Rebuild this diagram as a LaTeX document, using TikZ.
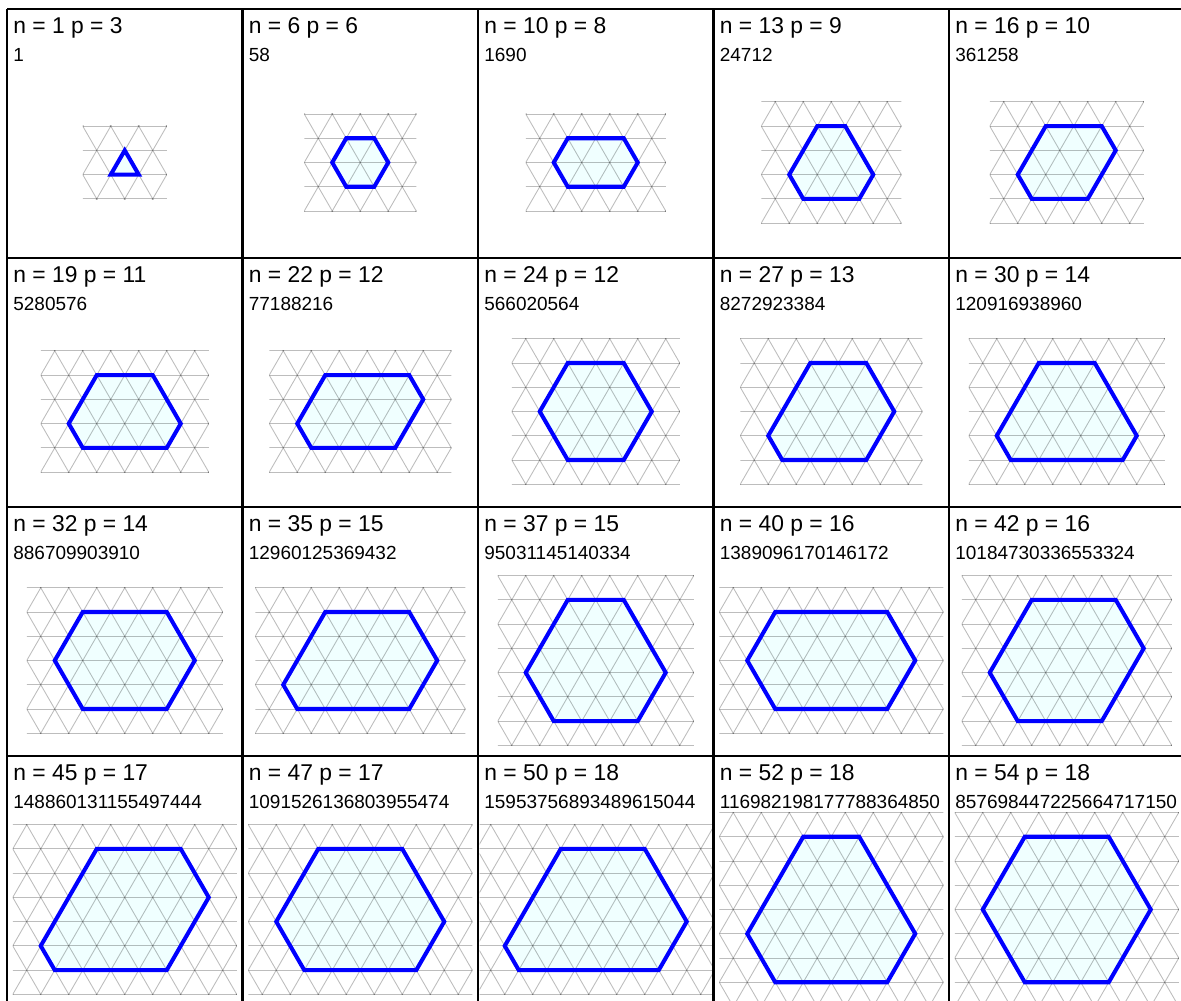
\documentclass[tikz,border=0pt]{standalone}
\usepackage{fontspec}
\setmainfont{Liberation Sans}
\definecolor{hexblue}{RGB}{0,0,255}
\definecolor{hexfill}{RGB}{240,255,255}

% one table cell: #1 column, #2 row, #3 n, #4 p, #5 count,
% #6 top side, #7 upper right side, #8 upper left side, #9 height in rows
\newcommand{\hexcell}[9]{%
  \pgfmathsetmacro{\hxL}{7+235.5*#1}
  \pgfmathsetmacro{\hxT}{9+249*#2}
  \pgfmathsetmacro{\hxX}{\hxL+117.75-14*(#6+#7/2-#8/2)}
  \pgfmathsetmacro{\hxY}{\hxT+153.5-12.125*#9}
  \node[headtext] (n#1#2) at (\hxL+6,\hxT+24) {n = #3 p = #4};
  \node[counttext] (c#1#2) at (\hxL+6,\hxT+52) {#5};
  \coordinate (v1) at (\hxX,\hxY);
  \coordinate (v2) at ({\hxX+28*#6},\hxY);
  \coordinate (v3) at ({\hxX+28*(#6+#7/2)},{\hxY+24.25*#7});
  \coordinate (v4) at ({\hxX+28*(#6+#7-#9/2)},{\hxY+24.25*#9});
  \coordinate (v5) at ({\hxX+28*(#9/2-#8)},{\hxY+24.25*#9});
  \coordinate (v6) at ({\hxX-14*#8},{\hxY+24.25*#8});
  \fill[hexfill] (v1) -- (v2) -- (v3) -- (v4) -- (v5) -- (v6) -- cycle;
  \begin{scope}
    \clip (\hxL+1.5,\hxT+1.5) rectangle (\hxL+234,\hxT+247.5);
    \clip ({\hxX-14*#8-28},{\hxY-24.75}) rectangle ({\hxX+28*(#6+#7/2+1)},{\hxY+24.25*#9+24.75});
    \foreach \hxr in {-1,...,7}
      \draw[gridline] ({\hxX-150},{\hxY+24.25*\hxr}) -- ({\hxX+300},{\hxY+24.25*\hxr});
    \foreach \hxm in {-8,...,10} {
      \draw[gridline] ({\hxX+28*(\hxm+1)},{\hxY-48.5}) -- ({\hxX+28*(\hxm-4.5)},{\hxY+218.25});
      \draw[gridline] ({\hxX+28*(\hxm-1)},{\hxY-48.5}) -- ({\hxX+28*(\hxm+4.5)},{\hxY+218.25});
    }
  \end{scope}
  \draw[hexline] (v1) -- (v2) -- (v3) -- (v4) -- (v5) -- (v6) -- cycle;
}

\begin{document}
\begin{tikzpicture}[x=0.02cm,y=-0.02cm,
  headtext/.style={anchor=base west,inner sep=0pt,font=\fontsize{13}{15}\selectfont},
  counttext/.style={anchor=base west,inner sep=0pt,font=\fontsize{10.8}{12}\selectfont},
  gridline/.style={draw=black,draw opacity=0.26,line width=0.5pt},
  hexline/.style={draw=hexblue,line width=2.3pt},
  tableline/.style={line width=1.4pt}]
\useasboundingbox (0,0) rectangle (1181,1001);
\hexcell{0}{0}{1}{3}{1}{0}{1}{1}{1}
\hexcell{1}{0}{6}{6}{58}{1}{1}{1}{2}
\hexcell{2}{0}{10}{8}{1690}{2}{1}{1}{2}
\hexcell{3}{0}{13}{9}{24712}{1}{2}{2}{3}
\hexcell{4}{0}{16}{10}{361258}{2}{1}{2}{3}
\hexcell{0}{1}{19}{11}{5280576}{2}{2}{2}{3}
\hexcell{1}{1}{22}{12}{77188216}{3}{1}{2}{3}
\hexcell{2}{1}{24}{12}{566020564}{2}{2}{2}{4}
\hexcell{3}{1}{27}{13}{8272923384}{2}{2}{3}{4}
\hexcell{4}{1}{30}{14}{120916938960}{2}{3}{3}{4}
\hexcell{0}{2}{32}{14}{886709903910}{3}{2}{2}{4}
\hexcell{1}{2}{35}{15}{12960125369432}{3}{2}{3}{4}
\hexcell{2}{2}{37}{15}{95031145140334}{2}{3}{3}{5}
\hexcell{3}{2}{40}{16}{1389096170146172}{4}{2}{2}{4}
\hexcell{4}{2}{42}{16}{10184730336553324}{3}{2}{3}{5}
\hexcell{0}{3}{45}{17}{148860131155497444}{3}{2}{4}{5}
\hexcell{1}{3}{47}{17}{1091526136803955474}{3}{3}{3}{5}
\hexcell{2}{3}{50}{18}{15953756893489615044}{3}{3}{4}{5}
\hexcell{3}{3}{52}{18}{116982198177788364850}{2}{4}{4}{6}
\hexcell{4}{3}{54}{18}{857698447225664717150}{3}{3}{3}{6}
% table rules
\foreach \y in {9,258,507,756}
  \draw[tableline] (7,\y) -- (1181,\y);
\foreach \x in {7,242.5,478,713.5,949}
  \draw[tableline] (\x,9) -- (\x,1001);
\end{tikzpicture}
\end{document}
